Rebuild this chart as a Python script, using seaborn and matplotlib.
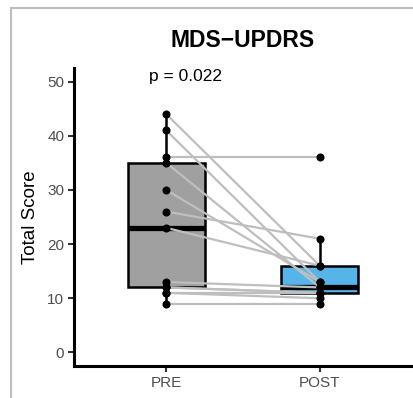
import matplotlib
matplotlib.use("Agg")
import matplotlib.pyplot as plt
from matplotlib.lines import Line2D
import seaborn as sns
import pandas as pd

# paired scores, one entry per subject
pre_scores = [44, 41, 36, 35, 30, 26, 23, 13, 12, 12, 11, 11, 9]
post_scores = [16, 13, 36, 12, 13, 21, 16, 12, 11, 11, 11, 10, 9]
time_labels = ["PRE", "POST"]
box_colors = ["#A0A0A0", "#56B4E9"]
title_text = "MDS\u2212UPDRS"
p_text = "p = 0.022"
y_ticks = [0, 10, 20, 30, 40, 50]

subjects = list(range(len(pre_scores)))
df = pd.DataFrame({
    "subject": subjects * 2,
    "time": ["PRE"] * len(pre_scores) + ["POST"] * len(post_scores),
    "score": pre_scores + post_scores,
})

sns.set_style("white")
plt.rcParams["font.family"] = ["Liberation Sans", "DejaVu Sans"]
plt.rcParams["text.color"] = "black"

fig = plt.figure(figsize=(4.14, 3.98), dpi=100)
ax = fig.add_axes([74 / 414, 1 - 366 / 398, 338 / 414, 298 / 398])

sns.boxplot(data=df, x="time", y="score", order=time_labels, hue="time",
            hue_order=time_labels, palette=box_colors, legend=False,
            saturation=1, width=0.5, linecolor="black", linewidth=1.8,
            fliersize=0, showcaps=False,
            medianprops={"linewidth": 3.8, "color": "black"}, ax=ax)

# paired lines
for a, b in zip(pre_scores, post_scores):
    ax.plot([0, 1], [a, b], color="#BEBEBE", lw=1.6, zorder=3,
            solid_capstyle="butt")

sns.stripplot(data=df, x="time", y="score", order=time_labels, jitter=False,
              color="black", size=5.8, zorder=4, ax=ax)

ax.set_xlim(-0.6, 1.6)
ax.set_ylim(-2.5, 52.5)
ax.set_yticks(y_ticks)
ax.set_xlabel("")
ax.set_ylabel("Total Score", fontsize=13.5, color="black", labelpad=6)
ax.tick_params(axis="both", labelsize=11, colors="#4D4D4D", length=4,
               width=1.5, direction="out", pad=3, left=True, bottom=True)
ax.tick_params(axis="both", color="#333333")
for side in ["top", "right"]:
    ax.spines[side].set_visible(False)
for side in ["left", "bottom"]:
    ax.spines[side].set_color("black")
    ax.spines[side].set_linewidth(2.2)
    ax.spines[side].set_zorder(5)

ax.set_title(title_text, fontsize=16.5, fontweight="bold", color="black", pad=15)
ax.text(-0.11, 51, p_text, ha="left", va="center", fontsize=12.5,
        color="black")

# gray panel border of the screenshot
fig.add_artist(Line2D([11 / 414, 11 / 414], [0, 1 - 8 / 398],
                      color="#BDBDBD", lw=1.5))
fig.add_artist(Line2D([11 / 414, 1], [1 - 8 / 398, 1 - 8 / 398],
                      color="#BDBDBD", lw=1.5))

fig.savefig("out.png", dpi=100)
